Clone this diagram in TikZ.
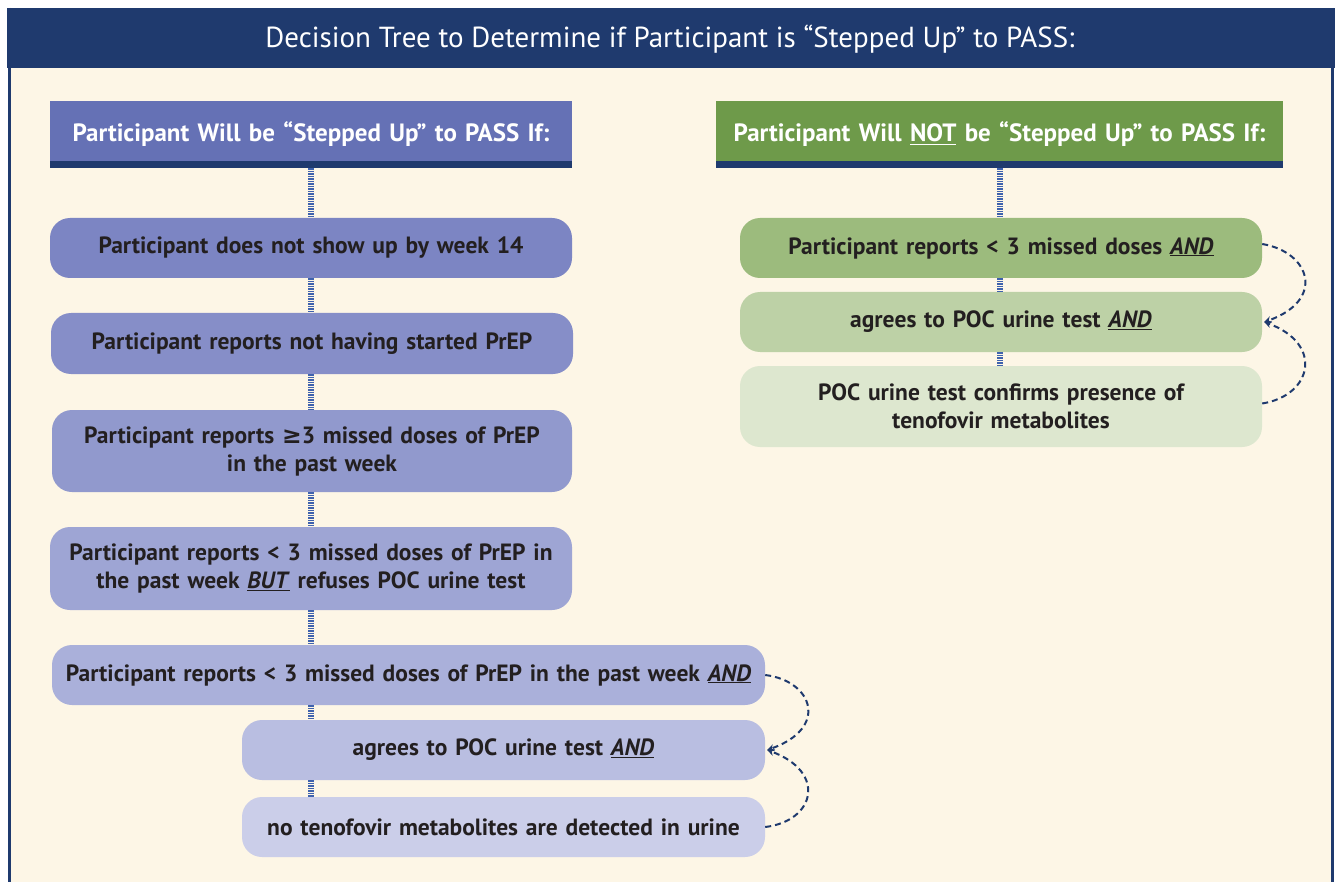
\documentclass[tikz,border=0pt]{standalone}
\usepackage{fontspec}
\setmainfont{PT Sans}
\newfontfamily\dej{DejaVu Sans}
\usetikzlibrary{arrows.meta}
\definecolor{navy}{HTML}{1F3A6E}
\definecolor{cream}{HTML}{FDF6E6}
\definecolor{txt}{HTML}{231F20}
\definecolor{stripec}{HTML}{3F62AD}
\definecolor{hblue}{HTML}{6571B5}
\definecolor{hgreen}{HTML}{6E9A4A}
\definecolor{bA}{HTML}{7C85C3}
\definecolor{bB}{HTML}{868EC8}
\definecolor{bC}{HTML}{9199CD}
\definecolor{bD}{HTML}{9EA5D4}
\definecolor{bE}{HTML}{AAB0DA}
\definecolor{bF}{HTML}{B9BEE1}
\definecolor{bG}{HTML}{CBCEE9}
\definecolor{gA}{HTML}{9CBB7D}
\definecolor{gB}{HTML}{BDD1A6}
\definecolor{gC}{HTML}{DDE7CF}
\newcommand{\und}[1]{\underline{\textit{#1}}}
\begin{document}
\begin{tikzpicture}[x=1pt,y=-1pt,
  box/.style={rounded corners=20pt, inner sep=0pt, align=center, text=txt,
    font=\bfseries\fontsize{23.5}{28}\selectfont},
  hdr/.style={inner sep=0pt, align=center, text=white, minimum height=67pt,
    font=\bfseries\fontsize{25}{28}\selectfont},
  stripe/.style={draw=stripec, line width=6pt, dash pattern=on 1.4pt off 1.1pt},
  dcurve/.style={draw=navy, line width=2pt, dash pattern=on 6pt off 4pt,
    -{Stealth[length=7pt,width=7pt]}}
]
\useasboundingbox (0,0) rectangle (1340,882);
\fill[white] (0,0) rectangle (1340,882);
\fill[cream] (8,8) rectangle (1334,882);
\fill[navy] (7,8) rectangle (1335,68);
\draw[navy, line width=3pt] (9.5,8) -- (9.5,882);
\draw[navy, line width=3pt] (1332.5,8) -- (1332.5,882);
\node[text=white, font=\fontsize{29}{32}\selectfont] (title) at (670,39)
  {Decision Tree to Determine if Participant is “Stepped Up” to PASS:};

% headers
\node[hdr, fill=hblue, text width=522pt] (hl) at (311,134.5)
  {\raisebox{4pt}{Participant Will be “Stepped Up” to PASS If:}};
\fill[navy] (hl.south west) rectangle ([yshift=7pt]hl.south east);
\node[hdr, fill=hgreen, text width=567pt] (hr) at (999.5,134.5)
  {\raisebox{4pt}{Participant Will \underline{NOT} be “Stepped Up” to PASS If:}};
\fill[navy] (hr.south west) rectangle ([yshift=7pt]hr.south east);

% left boxes
\node[box, fill=bA, text width=522pt, minimum height=60pt] (l1) at (311,248)
  {Participant does not show up by week 14};
\node[box, fill=bB, text width=522pt, minimum height=61pt] (l2) at (312,343.5)
  {Participant reports not having started PrEP};
\node[box, fill=bC, text width=520pt, minimum height=82pt] (l3) at (312,451)
  {Participant reports {\dej\bfseries ≥}3 missed doses of PrEP\\in the past week};
\node[box, fill=bD, text width=522pt, minimum height=83pt] (l4) at (311,568.5)
  {Participant reports < 3 missed doses of PrEP in\\the past week \und{BUT} refuses POC urine test};
\node[box, fill=bE, text width=713pt, minimum height=60pt] (l5) at (408.5,675)
  {Participant reports < 3 missed doses of PrEP in the past week \und{AND}};
\node[box, fill=bF, text width=523pt, minimum height=60pt] (l6) at (503.5,750)
  {agrees to POC urine test \und{AND}};
\node[box, fill=bG, text width=523pt, minimum height=60pt] (l7) at (503.5,827)
  {no tenofovir metabolites are detected in urine};

% right boxes
\node[box, fill=gA, text width=522pt, minimum height=60pt] (r1) at (1001,248)
  {Participant reports < 3 missed doses \und{AND}};
\node[box, fill=gB, text width=522pt, minimum height=60pt] (r2) at (1001,322)
  {agrees to POC urine test \und{AND}};
\node[box, fill=gC, text width=522pt, minimum height=81pt] (r3) at (1001,406.5)
  {POC urine test confirms presence of\\tenofovir metabolites};

% striped connectors left
\coordinate (lc) at (311,0);
\draw[stripe] (lc |- hl.south) -- (lc |- l1.north);
\draw[stripe] (lc |- l1.south) -- (lc |- l2.north);
\draw[stripe] (lc |- l2.south) -- (lc |- l3.north);
\draw[stripe] (lc |- l3.south) -- (lc |- l4.north);
\draw[stripe] (lc |- l4.south) -- (lc |- l5.north);
\draw[stripe] (lc |- l5.south) -- (lc |- l6.north);
\draw[stripe] (lc |- l6.south) -- (lc |- l7.north);
% striped connectors right
\coordinate (rc) at (1000,0);
\draw[stripe] (rc |- hr.south) -- (rc |- r1.north);
\draw[stripe] (rc |- r1.south) -- (rc |- r2.north);
\draw[stripe] (rc |- r2.south) -- (rc |- r3.north);

% dashed curves
\draw[dcurve] (l5.east) .. controls +(48,6) and +(62,-22) .. ([xshift=2pt]l6.east);
\draw[dcurve] (l7.east) .. controls +(50,-6) and +(60,22) .. ([xshift=2pt]l6.east);
\draw[dcurve] ([yshift=4pt]r1.east) .. controls +(48,8) and +(62,-22) .. ([xshift=2pt]r2.east);
\draw[dcurve] ([yshift=3pt]r3.east) .. controls +(50,-8) and +(60,22) .. ([xshift=2pt]r2.east);
\end{tikzpicture}
\end{document}
